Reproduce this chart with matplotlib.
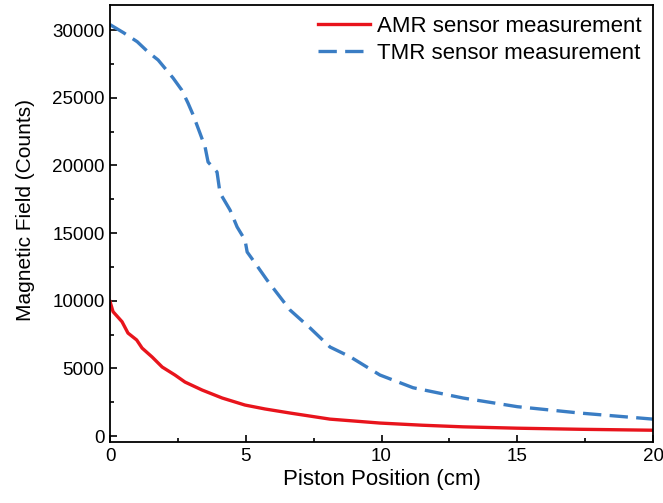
import numpy as np
import matplotlib
matplotlib.use('Agg')
import matplotlib.pyplot as plt
from matplotlib.ticker import MultipleLocator

plt.rcParams['font.family'] = ['Liberation Sans', 'DejaVu Sans']

# AMR sensor readings
amr_x = [0, 0.11, 0.44, 0.66, 0.98, 1.18, 1.55, 1.92, 2.39, 2.76, 3.39, 4.13, 4.97, 5.71,
         6.63, 8.1, 9.94, 11.5, 13.0, 15.0, 17.3, 20.0]
amr_y = [9930, 9190, 8450, 7610, 7100, 6500, 5840, 5100, 4510, 3990, 3400, 2810, 2290, 2000,
         1700, 1250, 960, 800, 680, 580, 500, 430]

# TMR sensor readings
tmr_x = [0, 0.5, 1.0, 1.4, 1.77, 2.32, 2.64, 2.87, 3.06, 3.31, 3.5, 3.61, 3.94, 4.05, 4.42,
         4.68, 4.97, 5.05, 5.34, 5.78, 6.63, 7.37, 8.1, 8.84, 9.94, 11.16, 13.0, 15.0, 17.3, 20.0]
tmr_y = [30400, 29800, 29140, 28380, 27790, 26460, 25570, 24610, 23730, 22390, 21360, 20250,
         19510, 17960, 16700, 15450, 14490, 13600, 12790, 11530, 9310, 7980, 6580, 5860, 4510,
         3570, 2810, 2170, 1700, 1250]

fig, ax = plt.subplots(figsize=(6.63, 5.03), dpi=100)
fig.subplots_adjust(left=0.166, right=0.985, top=0.99, bottom=0.121)

ax.plot(amr_x, amr_y, color='#e8141c', linewidth=2.4, label='AMR sensor measurement')
ax.plot(tmr_x, tmr_y, color='#3a7dc4', linewidth=2.4, dashes=(5.5, 2.5), label='TMR sensor measurement')

ax.set_xlim(0, 20)
ax.set_ylim(-450, 31850)
ax.xaxis.set_major_locator(MultipleLocator(5))
ax.xaxis.set_minor_locator(MultipleLocator(2.5))
ax.yaxis.set_major_locator(MultipleLocator(5000))
ax.yaxis.set_minor_locator(MultipleLocator(2500))
ax.tick_params(which='both', direction='in', labelsize=13.5, width=1.2, pad=4)
ax.tick_params(which='major', length=5)
ax.tick_params(which='minor', length=3)
for s in ax.spines.values():
    s.set_linewidth(1.3)

ax.set_xlabel('Piston Position (cm)', fontsize=16)
ax.set_ylabel('Magnetic Field (Counts)', fontsize=15)
ax.xaxis.set_label_coords(0.5, -0.062)
ax.yaxis.set_label_coords(-0.138, 0.53)
ax.legend(loc='upper right', fontsize=16, frameon=False, handlelength=2.3,
          borderaxespad=0.1, borderpad=0.4, labelspacing=0.25, handletextpad=0.35)

plt.savefig('out.png', dpi=100)
